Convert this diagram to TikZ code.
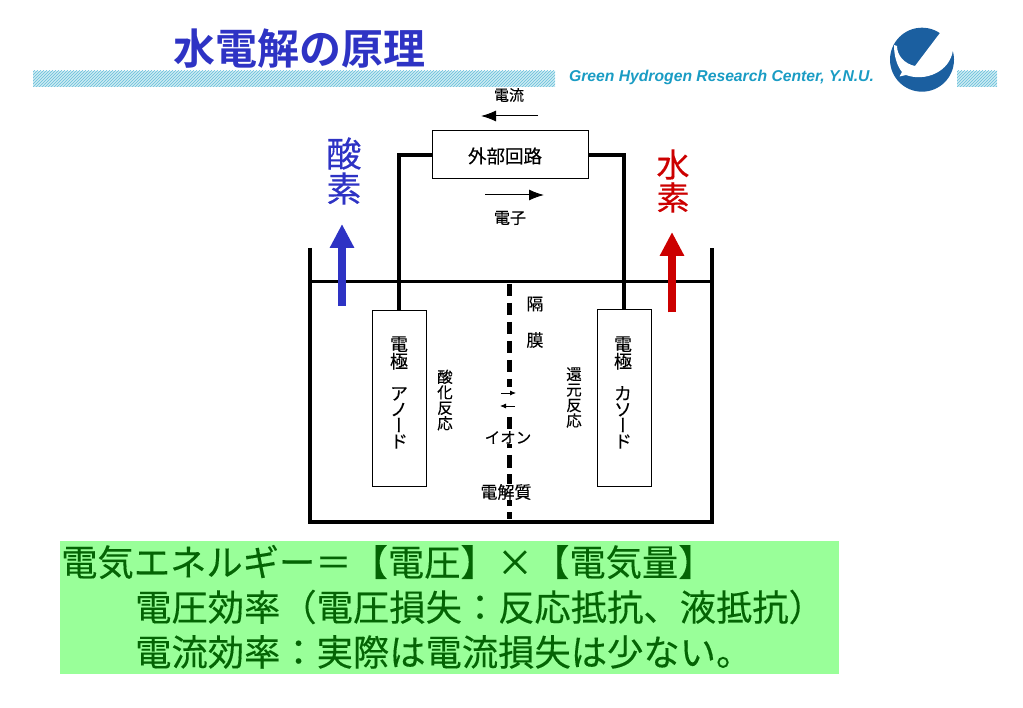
\documentclass[tikz,border=0pt]{standalone}
\usepackage{fontspec}
\usepackage{xcolor}
\usepackage{tikz}
\usetikzlibrary{arrows.meta,patterns}
\setmainfont{Noto Sans CJK JP}[FakeBold=0.25]
\newfontfamily\cjktitle{Noto Sans CJK JP Bold}
\newfontfamily\cjkvert[RawFeature=+vert,FakeBold=0.25]{Noto Sans CJK JP}
\newfontfamily\latinfont{Liberation Sans}
\newcommand{\fsz}[1]{\fontsize{#1}{#1}\selectfont}
\definecolor{myblue}{HTML}{2E33C4}
\definecolor{myred}{HTML}{CC0000}
\definecolor{mygreen}{HTML}{046404}
\definecolor{mylime}{HTML}{99FF99}
\definecolor{mycyan}{HTML}{1A9CC4}
\definecolor{mynavy}{HTML}{1B5FA0}
\definecolor{myband}{HTML}{CDEBF3}
\definecolor{myhatch}{HTML}{66BEDA}

\begin{document}
\begin{tikzpicture}[x=1pt, y=-1pt,
		th/.style = {line width = 4pt},
		tank/.style = {line width = 3.6pt},
		box/.style = {draw, line width = 1pt, inner sep = 0pt},
		band/.style = {pattern = north east lines, pattern color = myhatch},
		lab/.style = {inner sep = 0pt, align = center},
		gas/.style = {line width = 8pt, -{Triangle[length = 24pt, width = 23pt]}},
		flow/.style = {line width = 1pt, -{Latex[length = 15pt, width = 11pt]}},
		ion/.style = {line width = 0.8pt, -{Latex[length = 6pt, width = 5pt]}},
		line1/.style = {lab, anchor = west, text = mygreen, font = \fsz{36.3}}]
		\useasboundingbox (0,0) rectangle (1023,708);

		% header
		\fill[myband] (33,71) rectangle (555,87);
		\fill[band] (33,71) rectangle (555,87);
		\fill[myband] (957,71) rectangle (997,87);
		\fill[band] (957,71) rectangle (997,87);
		\node[lab, text = myblue, font = \cjktitle\fsz{42}] (title) at (299,49) {水電解の原理};
		\node[lab, text = mycyan, font = \latinfont\fsz{15.7}\bfseries\itshape] (center) at (721.5,77) {Green Hydrogen Research Center, Y.N.U.};
		\fill[mynavy] (922,59.7) circle (32);
		\fill[white] (894,45) .. controls (894,56) and (897,66) .. (902,72) -- (899.5,76.5) -- (906,75)
			.. controls (925,82) and (950,72) .. (953,50) -- (958,25) -- (945,25) -- (940.7,32)
			-- (915,66) .. controls (905,64) and (897,56) .. (897,46) -- cycle;

		% tank
		\coordinate (topleft) at (310,248);
		\coordinate (botleft) at (310,522);
		\coordinate (botright) at (712,522);
		\coordinate (topright) at (712,248);
		\coordinate (levelleft) at (310,281.5);
		\coordinate (levelright) at (712,281.5);
		\draw[tank] (topleft) -- (botleft) -- (botright) -- (topright);
		\draw[tank] (levelleft) -- (levelright);
		\coordinate (septop) at (509.5,284);
		\coordinate (sepbot) at (509.5,519);
		\draw[line width = 4.4pt, dash pattern = on 12.5pt off 6.5pt] (septop) -- (sepbot);

		% electrodes and circuit
		\node[box, minimum width = 156pt, minimum height = 48pt] (circuit) at (510,155) {};
		\node[box, minimum width = 54pt, minimum height = 176pt] (anode) at (399,398.5) {};
		\node[box, minimum width = 54pt, minimum height = 176pt] (cathode) at (624,398) {};
		\draw[th] (circuit.west) -| (anode.north);
		\draw[th] (circuit.east) -| (cathode.north);
		\node[lab, font = \fsz{18.5}] (circuitname) at (505,156) {外部回路};
		\node[lab, font = \cjkvert\fontsize{18}{16}\selectfont] (anodename) at (399,392.5) {電\\極\\[16pt]ア\\ノ\\ー\\ド};
		\node[lab, font = \cjkvert\fontsize{18}{16}\selectfont] (cathodename) at (623,392.5) {電\\極\\[16pt]カ\\ソ\\ー\\ド};

		% gases
		\coordinate (oxfrom) at (342,306);
		\coordinate (oxto) at (342,224);
		\coordinate (hyfrom) at (672,312.5);
		\coordinate (hyto) at (672,232);
		\draw[gas, color = myblue] (oxfrom) -- (oxto);
		\draw[gas, color = myred] (hyfrom) -- (hyto);
		\node[lab, text = myblue, font = \fsz{35}] (oxygen) at (344,171) {酸\\素};
		\node[lab, text = myred, font = \fsz{33}] (hydrogen) at (673,181) {水\\素};

		% flows
		\coordinate (curfrom) at (538,116);
		\coordinate (curto) at (481,116);
		\coordinate (elfrom) at (485,195);
		\coordinate (elto) at (544,195);
		\draw[flow] (curfrom) -- (curto);
		\draw[flow] (elfrom) -- (elto);
		\node[lab, font = \fsz{15}] (current) at (509,95) {電流};
		\node[lab, font = \fsz{16}] (electron) at (510,218) {電子};

		% labels in the tank
		\node[lab, font = \fsz{17}] (sep1) at (535,304) {隔};
		\node[lab, font = \fsz{17}] (sep2) at (535,340) {膜};
		\node[lab, font = \fsz{15.5}] (oxidation) at (445,400) {酸\\化\\反\\応};
		\node[lab, font = \fsz{15.5}] (reduction) at (574,397.5) {還\\元\\反\\応};
		\node[fill = white, inner sep = 0pt, minimum width = 20pt, minimum height = 27pt] (iongap) at (508,400.5) {};
		\coordinate (ionafrom) at (501,393);
		\coordinate (ionato) at (516,393);
		\coordinate (ionbfrom) at (515,406);
		\coordinate (ionbto) at (500,406);
		\draw[ion] (ionafrom) -- (ionato);
		\draw[ion] (ionbfrom) -- (ionbto);
		\node[lab, fill = white, font = \fsz{15.5}] (ions) at (508,437.5) {イオン};
		\node[lab, fill = white, font = \fsz{17}] (electrolyte) at (506,492) {電解質};

		% summary
		\fill[mylime] (60,541) rectangle (838.5,674);
		\node[line1] (energy) at (61,562) {電気エネルギー＝【電圧】×【電気量】};
		\node[line1] (voltage) at (135,607) {電圧効率（電圧損失：反応抵抗、液抵抗）};
		\node[line1] (loss) at (135,652) {電流効率：実際は電流損失は少ない。};
	\end{tikzpicture}
\end{document}
